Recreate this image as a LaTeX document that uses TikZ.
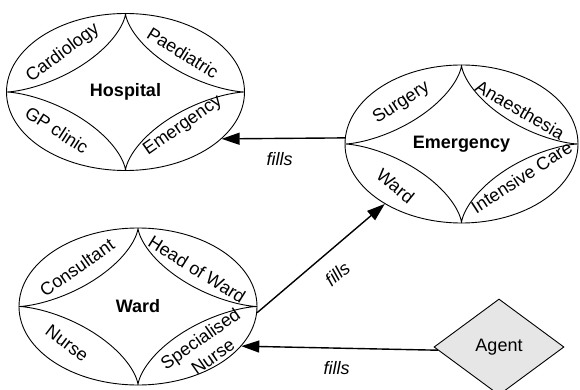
\documentclass[tikz,border=0pt]{standalone}
\usepackage{fontspec}
\setmainfont{Liberation Sans}
\usetikzlibrary{shapes.geometric,arrows.meta}
\newcommand{\quadstar}[3]{%
  \draw[line width=0.9pt, shift={(#1.center)}] plot[domain=0:360, samples=241]
    ({#2*cos(\x)*cos(\x)*cos(\x)}, {#3*sin(\x)*sin(\x)*sin(\x)});%
}
\begin{document}
\begin{tikzpicture}[x=1pt,y=-1pt,
  every node/.style={font=\fontsize{18}{22}\selectfont},
  ell/.style={ellipse, draw, line width=0.9pt, minimum width=238pt, minimum height=157pt,
    inner sep=0pt, font=\fontsize{18}{22}\selectfont\bfseries},
  agentbox/.style={diamond, draw, line width=0.9pt, fill={rgb,255:red,230;green,230;blue,230},
    minimum width=130pt, minimum height=96pt, inner sep=0pt},
  fillsarrow/.style={line width=1.4pt, -{Triangle[length=18pt,width=12pt]}},
  fillslabel/.style={font=\fontsize{18}{22}\selectfont\itshape, inner sep=0pt},
  part/.style={inner sep=0pt, align=center}
]
\useasboundingbox (0,0) rectangle (580,390);

% Hospital
\node[ell] (hosp) at (125.5,92) {Hospital};
\quadstar{hosp}{119}{78.5}
\node[part, rotate=37]  (hc) at ([shift={(-62.5,-39)}]hosp.center) {Cardiology};
\node[part, rotate=-32] (hp) at ([shift={(57.5,-39)}]hosp.center) {Paediatric};
\node[part, rotate=-33] (hg) at ([shift={(-68.5,38)}]hosp.center) {GP clinic};
\node[part, rotate=35]  (he) at ([shift={(57.5,34)}]hosp.center) {Emergency};

% Emergency
\node[ell, minimum width=233pt, minimum height=158pt] (emer) at (461.5,144) {Emergency};
\quadstar{emer}{116.5}{79}
\node[part, rotate=33]  (es) at ([shift={(-60,-41)}]emer.center) {Surgery};
\node[part, rotate=-30] (ea) at ([shift={(58.5,-34)}]emer.center) {Anaesthesia};
\node[part, rotate=-39] (ew) at ([shift={(-66,42)}]emer.center) {Ward};
\node[part, rotate=33]  (ei) at ([shift={(60,33)}]emer.center) {Intensive Care};

% Ward
\node[ell] (ward) at (138,306.5) {Ward};
\quadstar{ward}{119}{78.5}
\node[part, rotate=35]  (wc) at ([shift={(-61,-39)}]ward.center) {Consultant};
\node[part, rotate=-32] (wh) at ([shift={(59,-37)}]ward.center) {Head of Ward};
\node[part, rotate=-37] (wn) at ([shift={(-71,37)}]ward.center) {Nurse};
\node[part, rotate=35]  (ws) at ([shift={(68.5,41)}]ward.center) {Specialised\\Nurse};

% Agent
\node[agentbox] (agent) at (499,347) {Agent};

% connectors
\draw[fillsarrow] (emer.177.5) -- (hosp.-26)
  node[fillslabel, pos=0.53, below=13.4pt] {fills};
\draw[fillsarrow] (ward.-3) -- (emer.218)
  node[fillslabel, pos=0.515, sloped, below=15pt] {fills};
\draw[fillsarrow] (agent.183) -- (ward.-21)
  node[fillslabel, pos=0.515, below=13pt] {fills};
\end{tikzpicture}
\end{document}
